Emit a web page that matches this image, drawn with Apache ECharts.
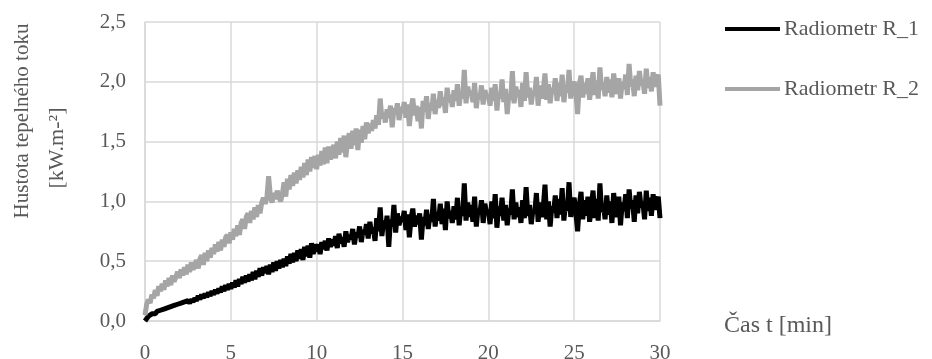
<!DOCTYPE html>
<html>
<head>
<meta charset="utf-8">
<script src="https://cdn.jsdelivr.net/npm/echarts@6/dist/echarts.min.js"></script>
<style>
  html, body { margin: 0; padding: 0; background: #fff; }
  #chart { width: 932px; height: 359px; }
</style>
</head>
<body>
<div id="chart"></div>
<script>
// time step of the readings [min]; readings start at t = 0
const STEP = 0.1;
const xTicks = [0, 5, 10, 15, 20, 25, 30];
const yTicks = [0, 0.5, 1, 1.5, 2, 2.5];
const seriesNames = ["Radiometr R_1", "Radiometr R_2"];

// Radiometr R_1 (black), one value every 0.1 min
const r1 = [
  0.00, 0.02, 0.04, 0.05, 0.06, 0.07, 0.06, 0.08, 0.07, 0.09,
  0.09, 0.10, 0.09, 0.11, 0.10, 0.12, 0.11, 0.13, 0.12, 0.14,
  0.13, 0.15, 0.14, 0.16, 0.15, 0.17, 0.15, 0.18, 0.16, 0.19,
  0.17, 0.21, 0.18, 0.22, 0.19, 0.23, 0.20, 0.24, 0.21, 0.25,
  0.22, 0.26, 0.23, 0.27, 0.24, 0.29, 0.25, 0.30, 0.26, 0.31,
  0.27, 0.32, 0.28, 0.34, 0.29, 0.35, 0.31, 0.37, 0.32, 0.38,
  0.33, 0.39, 0.34, 0.41, 0.35, 0.42, 0.37, 0.44, 0.38, 0.45,
  0.40, 0.46, 0.39, 0.47, 0.41, 0.49, 0.42, 0.50, 0.44, 0.51,
  0.45, 0.52, 0.46, 0.54, 0.48, 0.56, 0.49, 0.57, 0.50, 0.59,
  0.52, 0.60, 0.51, 0.62, 0.54, 0.63, 0.53, 0.65, 0.56, 0.64,
  0.58, 0.64, 0.56, 0.66, 0.60, 0.67, 0.59, 0.69, 0.62, 0.68,
  0.63, 0.71, 0.61, 0.73, 0.65, 0.70, 0.62, 0.75, 0.66, 0.72,
  0.68, 0.77, 0.64, 0.74, 0.70, 0.79, 0.66, 0.76, 0.72, 0.81,
  0.69, 0.83, 0.73, 0.78, 0.67, 0.86, 0.75, 0.95, 0.71, 0.84,
  0.77, 0.88, 0.62, 0.85, 0.79, 0.97, 0.74, 0.90, 0.80, 0.87,
  0.83, 0.92, 0.76, 0.89, 0.70, 0.86, 0.94, 0.79, 0.88, 0.81,
  0.90, 0.68, 0.87, 0.80, 0.93, 0.77, 0.89, 0.83, 1.02, 0.79,
  0.91, 0.84, 0.98, 0.81, 0.94, 0.76, 1.00, 0.86, 0.92, 0.82,
  0.96, 0.85, 1.03, 0.80, 0.95, 0.88, 1.15, 0.84, 0.99, 0.87,
  0.97, 0.83, 1.04, 0.79, 0.94, 0.89, 1.01, 0.82, 0.98, 0.90,
  0.93, 0.81, 1.00, 0.86, 1.06, 0.78, 0.96, 0.88, 1.03, 0.84,
  0.97, 0.80, 0.94, 0.89, 1.10, 0.85, 0.99, 0.87, 0.95, 0.82,
  1.01, 0.86, 1.12, 0.88, 0.97, 0.81, 0.93, 0.90, 1.07, 0.83,
  0.99, 0.87, 0.95, 1.14, 0.85, 1.00, 0.79, 0.96, 0.91, 1.05,
  0.86, 1.02, 0.89, 1.11, 0.84, 0.98, 0.92, 1.16, 0.87, 0.99,
  1.03, 0.90, 0.75, 0.97, 1.08, 0.85, 1.01, 0.88, 1.04, 0.83,
  0.96, 1.09, 0.86, 1.02, 0.84, 1.15, 0.91, 0.98, 0.85, 1.05,
  0.89, 1.00, 0.82, 1.07, 0.93, 0.87, 1.04, 0.80, 0.99, 0.92,
  1.06, 0.86, 1.10, 0.94, 1.01, 0.83, 1.05, 0.90, 1.08, 0.95,
  1.00, 0.85, 1.09, 0.92, 1.03, 0.88, 1.06, 0.93, 0.99, 1.04,
  0.86
];

// Radiometr R_2 (grey), one value every 0.1 min
const r2 = [
  0.05, 0.14, 0.18, 0.15, 0.22, 0.19, 0.26, 0.21, 0.29, 0.25,
  0.31, 0.26, 0.34, 0.29, 0.36, 0.30, 0.38, 0.33, 0.37, 0.41,
  0.36, 0.43, 0.38, 0.45, 0.39, 0.47, 0.41, 0.49, 0.43, 0.47,
  0.51, 0.44, 0.52, 0.55, 0.47, 0.57, 0.50, 0.59, 0.53, 0.61,
  0.56, 0.64, 0.58, 0.66, 0.59, 0.68, 0.62, 0.70, 0.72, 0.65,
  0.74, 0.68, 0.77, 0.71, 0.80, 0.72, 0.82, 0.85, 0.77, 0.87,
  0.90, 0.82, 0.92, 0.85, 0.95, 0.87, 0.97, 0.90, 0.99, 1.03,
  0.98, 1.03, 1.21, 1.05, 0.99, 1.07, 1.02, 1.09, 1.04, 1.00,
  1.06, 1.16, 1.04, 1.19, 1.10, 1.22, 1.13, 1.24, 1.15, 1.26,
  1.18, 1.29, 1.20, 1.32, 1.22, 1.35, 1.25, 1.37, 1.28, 1.38,
  1.27, 1.39, 1.30, 1.42, 1.31, 1.45, 1.32, 1.46, 1.35, 1.43,
  1.47, 1.36, 1.50, 1.39, 1.53, 1.41, 1.55, 1.37, 1.51, 1.57,
  1.44, 1.59, 1.47, 1.61, 1.43, 1.60, 1.49, 1.63, 1.52, 1.66,
  1.57, 1.65, 1.59, 1.68, 1.61, 1.72, 1.64, 1.86, 1.69, 1.74,
  1.66, 1.77, 1.70, 1.80, 1.62, 1.78, 1.73, 1.82, 1.68, 1.79,
  1.74, 1.83, 1.70, 1.81, 1.63, 1.78, 1.86, 1.72, 1.80, 1.67,
  1.79, 1.61, 1.84, 1.75, 1.88, 1.69, 1.82, 1.76, 1.90, 1.73,
  1.85, 1.78, 1.92, 1.80, 1.87, 1.74, 1.95, 1.83, 1.89, 1.79,
  1.93, 1.84, 1.98, 1.80, 1.91, 1.86, 2.10, 1.82, 1.96, 1.88,
  1.92, 1.83, 1.99, 1.78, 1.90, 1.85, 1.97, 1.81, 1.93, 1.87,
  1.89, 1.80, 1.95, 1.84, 1.98, 1.76, 1.91, 1.86, 2.02, 1.83,
  1.94, 1.73, 1.90, 1.85, 2.09, 1.82, 1.96, 1.88, 1.93, 1.79,
  1.99, 1.84, 2.08, 1.87, 1.95, 1.81, 1.92, 1.89, 2.04, 1.80,
  1.97, 1.86, 1.93, 2.07, 1.85, 1.98, 1.82, 1.95, 1.90, 2.03,
  1.84, 1.99, 1.88, 2.06, 1.83, 1.96, 1.91, 2.10, 1.86, 1.97,
  2.00, 1.92, 1.73, 1.98, 2.05, 1.87, 1.99, 1.90, 2.03, 1.85,
  1.97, 2.08, 1.89, 2.01, 1.86, 2.12, 1.93, 1.99, 1.88, 2.04,
  1.91, 2.02, 1.87, 2.07, 1.95, 1.90, 2.03, 1.86, 2.00, 1.94,
  2.06, 1.89, 2.15, 1.96, 2.02, 1.88, 2.05, 1.93, 2.09, 1.97,
  2.01, 1.90, 2.11, 1.95, 2.04, 1.92, 2.08, 1.96, 2.02, 2.06,
  1.80
];

const FONT = "Liberation Serif";
const TEXT = "#595959";
const GRID = "#d9d9d9";

const toPairs = (arr) => arr.map((v, i) => [+(i * STEP).toFixed(1), v]);
const comma = (v) => v.toFixed(1).replace(".", ",");

const chart = echarts.init(document.getElementById("chart"), null, { renderer: "canvas" });

const option = {
  animation: false,
  backgroundColor: "#fff",
  textStyle: { fontFamily: FONT },
  grid: { left: 145, right: 272, top: 22, bottom: 38, containLabel: false, outerBoundsMode: "none" },
  legend: {
    orient: "vertical",
    left: 725,
    top: 18,
    padding: 0,
    itemWidth: 55,
    itemHeight: 4,
    itemGap: 38,
    icon: "rect",
    textStyle: { fontFamily: FONT, fontSize: 22, color: TEXT, padding: [0, 0, 0, -1] },
    data: seriesNames,
  },
  // axis titles placed as in the original (y title: two separately centred lines)
  graphic: [
    {
      type: "text",
      x: 22, y: 121, rotation: Math.PI / 2,
      style: { text: "Hustota tepelného toku", fontFamily: FONT, fontSize: 21, fill: TEXT, align: "center", verticalAlign: "middle" },
    },
    {
      type: "text",
      x: 57, y: 148, rotation: Math.PI / 2,
      style: { text: "[kW.m-²]", fontFamily: FONT, fontSize: 22, fill: TEXT, align: "center", verticalAlign: "middle" },
    },
    {
      type: "text",
      x: 724, y: 326,
      style: { text: "Čas t [min]", fontFamily: FONT, fontSize: 24, fill: TEXT, align: "left", verticalAlign: "middle" },
    },
  ],
  xAxis: {
    type: "value",
    min: xTicks[0],
    max: xTicks[xTicks.length - 1],
    interval: 5,
    axisLine: { show: true, lineStyle: { color: GRID, width: 1.5 } },
    axisTick: { show: false },
    axisLabel: { fontFamily: FONT, fontSize: 21, color: TEXT, margin: 22 },
    splitLine: { show: true, lineStyle: { color: GRID, width: 1.5 } },
  },
  yAxis: {
    type: "value",
    min: yTicks[0],
    max: yTicks[yTicks.length - 1],
    interval: 0.5,
    axisLine: { show: true, lineStyle: { color: GRID, width: 1.5 } },
    axisTick: { show: false },
    axisLabel: { fontFamily: FONT, fontSize: 21, color: TEXT, margin: 19, formatter: comma },
    splitLine: { show: true, lineStyle: { color: GRID, width: 1.5 } },
  },
  series: [
    {
      name: seriesNames[0],
      type: "line",
      data: toPairs(r1),
      symbol: "none",
      color: "#000000",
      lineStyle: { color: "#000000", width: 5 },
    },
    {
      name: seriesNames[1],
      type: "line",
      data: toPairs(r2),
      symbol: "none",
      color: "#a5a5a5",
      lineStyle: { color: "#a5a5a5", width: 5 },
    },
  ],
};

chart.setOption(option);
</script>
</body>
</html>
